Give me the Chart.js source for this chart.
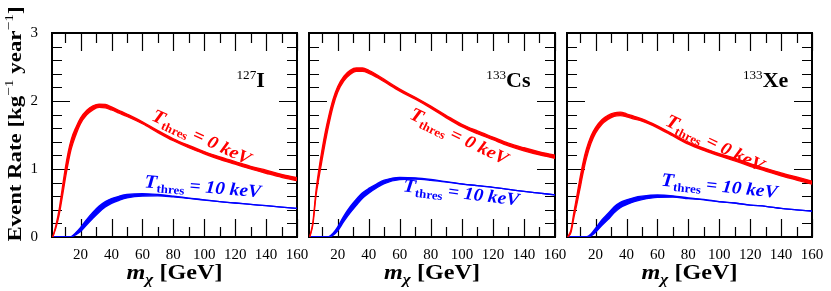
<!DOCTYPE html>
<html><head><meta charset="utf-8">
<script src="https://cdn.jsdelivr.net/npm/chart.js@4"></script>
<style>
html,body{margin:0;padding:0;background:#fff;}
#wrap{position:relative;width:831px;height:291px;overflow:hidden;}
canvas{position:absolute;left:0;top:0;}
</style>
</head><body>
<div id="wrap">
<canvas id="c0" width="831" height="291"></canvas>
<canvas id="c1" width="831" height="291"></canvas>
<canvas id="c2" width="831" height="291"></canvas>
</div>
<script>
// ---- data ----
const masses = [2,4,6,8,10,12,14,17,20,24,28,32,36,40,45,50,60,70,80,90,100,110,120,130,140,150,160];

const redI  = [0,0.15,0.35,0.63,0.92,1.17,1.37,1.56,1.71,1.83,1.90,1.93,1.925,1.89,1.84,1.79,1.68,1.55,1.43,1.33,1.24,1.16,1.09,1.02,0.96,0.90,0.85];
const blueI = [0,0,0,0,0,0,0.005,0.05,0.11,0.22,0.32,0.41,0.48,0.53,0.57,0.60,0.62,0.615,0.595,0.57,0.545,0.52,0.50,0.48,0.46,0.44,0.42];

const redCs  = [0,0.2,0.64,0.95,1.22,1.47,1.69,1.97,2.17,2.33,2.42,2.46,2.46,2.43,2.37,2.30,2.16,2.04,1.91,1.77,1.64,1.54,1.45,1.36,1.29,1.23,1.18];
const blueCs = [0,0,0,0,0,0,0,0.04,0.12,0.27,0.40,0.51,0.61,0.68,0.75,0.81,0.86,0.86,0.84,0.81,0.78,0.755,0.73,0.70,0.67,0.645,0.62];

const redXe  = [0,0.08,0.33,0.56,0.80,1.03,1.22,1.43,1.57,1.69,1.76,1.80,1.81,1.79,1.755,1.72,1.62,1.50,1.38,1.29,1.21,1.14,1.06,0.99,0.92,0.86,0.80];
const blueXe = [0,0,0,0,0,0,0,0.03,0.10,0.21,0.30,0.40,0.47,0.51,0.55,0.575,0.60,0.595,0.57,0.55,0.52,0.50,0.47,0.45,0.42,0.40,0.38];

// width of the uncertainty bands (vertical spread)
const redSpread  = [0.01,0.04,0.08,0.13,0.16,0.16,0.14,0.11,0.085,0.07,0.06,0.05,0.05,0.045,0.04,0.035,0.03,0.03,0.03,0.035,0.035,0.04,0.04,0.04,0.045,0.045,0.045];
const blueSpread = [0,0,0,0,0,0,0.005,0.03,0.06,0.08,0.09,0.09,0.08,0.07,0.06,0.05,0.035,0.02,0.012,0.006,0.003,0,0,0,0,0,0];

const nuclei = [['127','I'],['133','Cs'],['133','Xe']];
const thresholds = ['0','10'];
const xMajorTicks = [20,40,60,80,100,120,140,160];
const xMinorTicks = [10,30,50,70,90,110,130,150];
const yMajorTicks = [0,1,2,3];
const yMinorTicks = [0.2,0.4,0.6,0.8,1.2,1.4,1.6,1.8,2.2,2.4,2.6,2.8];

// ---- layout / style ----
const RED = '#ff0000', BLUE = '#0000ff';
const FONT = '"Liberation Serif", "Times New Roman", serif';
Chart.defaults.font.family = FONT;
Chart.defaults.color = '#000';
const YW = 52;

const panels = [
  {left:52, right:297, red:redI, blue:blueI, nuc:nuclei[0], showY:true,
   redLab:{m:98, v:1.46, rot:25}, blueLab:{m:99, v:0.73, rot:5}},
  {left:309, right:555, red:redCs, blue:blueCs, nuc:nuclei[1], showY:false,
   redLab:{m:98, v:1.47, rot:26}, blueLab:{m:99.5, v:0.64, rot:7}},
  {left:567, right:812, red:redXe, blue:blueXe, nuc:nuclei[2], showY:false,
   redLab:{m:97, v:1.37, rot:26}, blueLab:{m:100, v:0.74, rot:6}}
];

function drawRich(ctx, parts, x, y, rotDeg, hscale, color, align) {
  ctx.save();
  ctx.fillStyle = color;
  ctx.textBaseline = 'alphabetic';
  ctx.textAlign = 'left';
  let total = 0;
  const widths = parts.map(p => {
    ctx.font = `${p.style||'normal'} ${p.w||'normal'} ${p.s}px ${FONT}`;
    const w = ctx.measureText(p.t).width;
    total += w;
    return w;
  });
  ctx.translate(x, y);
  ctx.rotate(rotDeg * Math.PI / 180);
  ctx.scale(hscale, 1);
  let cx = align === 'left' ? 0 : (align === 'right' ? -total : -total / 2);
  parts.forEach((p, i) => {
    ctx.font = `${p.style||'normal'} ${p.w||'normal'} ${p.s}px ${FONT}`;
    ctx.fillText(p.t, cx, (p.dy||0) + (p.base||0));
    cx += widths[i];
  });
  ctx.restore();
}

const framePlugin = {
  id: 'frame',
  beforeDatasetsDraw(chart) {
    const {ctx, chartArea: {left, right, top, bottom}, scales: {x, y}} = chart;
    ctx.save();
    ctx.strokeStyle = '#000';
    ctx.lineWidth = 1.2;
    ctx.beginPath();
    const xt = (vals, len) => vals.forEach(v => {
      const px = Math.round(x.getPixelForValue(v)) + 0.5;
      ctx.moveTo(px, bottom); ctx.lineTo(px, bottom - len);
      ctx.moveTo(px, top); ctx.lineTo(px, top + len);
    });
    const yt = (vals, len) => vals.forEach(v => {
      const py = Math.round(y.getPixelForValue(v)) + 0.5;
      ctx.moveTo(left, py); ctx.lineTo(left + len, py);
      ctx.moveTo(right, py); ctx.lineTo(right - len, py);
    });
    xt(xMajorTicks, 18); xt(xMinorTicks, 10);
    yt(yMajorTicks, 18); yt(yMinorTicks, 10);
    ctx.stroke();
    ctx.lineWidth = 2;
    ctx.strokeRect(left, top, right - left, bottom - top);
    ctx.restore();
  }
};

function makeAnnot(p, idx) {
  return {
    id: 'annot' + idx,
    afterDraw(chart) {
      const {ctx, chartArea: {left, right}, scales: {x, y}} = chart;
      drawRich(ctx, [
        {t: p.nuc[0], w: 'normal', s: 12, dy: -8},
        {t: p.nuc[1], w: 'bold', s: 20}
      ], x.getPixelForValue(130), y.getPixelForValue(2.21), 0, 1.1, '#000', 'center');
      const lab = (L, thr, color) => drawRich(ctx, [
        {t: 'T', style: 'italic', w: 'bold', s: 19, base: 5},
        {t: 'thres', w: 'bold', s: 12, dy: 4, base: 5},
        {t: ' = ', w: 'bold', s: 18, base: 5},
        {t: thr + ' keV', style: 'italic', w: 'bold', s: 18, base: 5}
      ], x.getPixelForValue(L.m), y.getPixelForValue(L.v), L.rot, 1.08, color, 'center');
      lab(p.redLab, thresholds[0], RED);
      lab(p.blueLab, thresholds[1], BLUE);
      drawRich(ctx, [
        {t: 'm', style: 'italic', w: 'bold', s: 21},
        {t: 'χ', style: 'italic', w: 'bold', s: 15, dy: 5},
        {t: ' [GeV]', w: 'bold', s: 21}
      ], (left + right) / 2, 279, 0, 1.15, '#000', 'center');
      if (p.showY) {
        drawRich(ctx, [
          {t: 'Event Rate [kg', w: 'bold', s: 19},
          {t: '−1', w: 'normal', s: 13, dy: -8},
          {t: ' year', w: 'bold', s: 19},
          {t: '−1', w: 'normal', s: 13, dy: -8},
          {t: ']', w: 'bold', s: 19}
        ], 21, 124, -90, 1.2, '#000', 'center');
      }
    }
  };
}

function band(center, spread, color) {
  const lo = masses.map((m, i) => ({x: m, y: Math.max(0, center[i] - spread[i] / 2)}));
  const hi = masses.map((m, i) => ({x: m, y: center[i] + spread[i] / 2}));
  return [
    {data: lo, borderColor: color, backgroundColor: color, fill: false},
    {data: hi, borderColor: color, backgroundColor: color, fill: '-1'}
  ];
}

panels.forEach((p, idx) => {
  new Chart(document.getElementById('c' + idx), {
    type: 'line',
    data: {datasets: [...band(p.red, redSpread, RED), ...band(p.blue, blueSpread, BLUE)]},
    options: {
      responsive: false, animation: false, devicePixelRatio: 1,
      layout: {padding: {left: p.left - YW, right: 831 - p.right, top: 33, bottom: 0}},
      plugins: {legend: {display: false}, tooltip: {enabled: false}},
      elements: {point: {radius: 0}, line: {borderWidth: 1.3, cubicInterpolationMode: 'monotone'}},
      scales: {
        x: {
          type: 'linear', min: 1.5, max: 160,
          grid: {display: false}, border: {display: false},
          afterBuildTicks: s => { s.ticks = xMajorTicks.map(v => ({value: v})); },
          ticks: {autoSkip: false, maxRotation: 0, minRotation: 0, padding: 1, font: {size: 15}, color: '#000'},
          afterFit: s => { s.height = 54; }
        },
        y: {
          type: 'linear', min: 0, max: 3,
          grid: {display: false}, border: {display: false},
          afterBuildTicks: s => { s.ticks = yMajorTicks.map(v => ({value: v})); },
          ticks: {display: p.showY, padding: 6, font: {size: 15}, color: '#000'},
          afterFit: s => { s.width = YW; }
        }
      }
    },
    plugins: [framePlugin, makeAnnot(p, idx)]
  });
});
</script>
</body></html>
